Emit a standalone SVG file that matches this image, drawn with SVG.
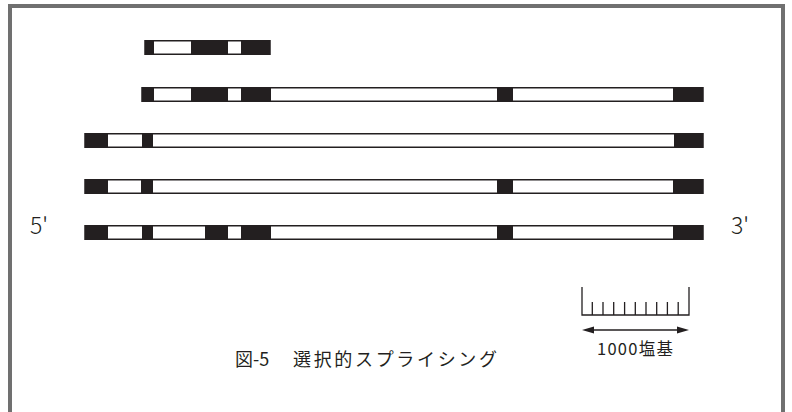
<svg xmlns="http://www.w3.org/2000/svg" width="792" height="412" viewBox="0 0 792 412">
<style>
.bar{fill:#fff;stroke:#231f20;stroke-width:1.5}
.ex{fill:#231f20}
.lbl{font-family:"Noto Sans CJK JP","Liberation Sans",sans-serif;font-weight:300;fill:#231f20}
.jp{font-family:"Noto Sans CJK JP",sans-serif;font-weight:400;fill:#231f20}
.sc{stroke:#231f20;stroke-width:1.3;fill:none}
</style>
<rect width="792" height="412" fill="#fff"/>
<rect x="10" y="6" width="773" height="430" fill="none" stroke="#707070" stroke-width="4"/>

<g id="isoform1">
<rect class="bar" x="145" y="40.75" width="125" height="13.5"/>
<rect class="ex" x="145" y="40" width="9" height="15"/>
<rect class="ex" x="191" y="40" width="37" height="15"/>
<rect class="ex" x="241" y="40" width="29" height="15"/>
</g>

<g id="isoform2">
<rect class="bar" x="142" y="87.75" width="561" height="13.5"/>
<rect class="ex" x="142" y="87" width="12" height="15"/>
<rect class="ex" x="191" y="87" width="37" height="15"/>
<rect class="ex" x="241" y="87" width="30" height="15"/>
<rect class="ex" x="497" y="87" width="16" height="15"/>
<rect class="ex" x="673" y="87" width="30" height="15"/>
</g>

<g id="isoform3">
<rect class="bar" x="85" y="133.75" width="618" height="13.5"/>
<rect class="ex" x="85" y="133" width="23" height="15"/>
<rect class="ex" x="142" y="133" width="11" height="15"/>
<rect class="ex" x="674" y="133" width="29" height="15"/>
</g>

<g id="isoform4">
<rect class="bar" x="85" y="179.75" width="618" height="13.5"/>
<rect class="ex" x="85" y="179" width="23" height="15"/>
<rect class="ex" x="141" y="179" width="12" height="15"/>
<rect class="ex" x="497" y="179" width="16" height="15"/>
<rect class="ex" x="673" y="179" width="30" height="15"/>
</g>

<g id="gene">
<rect class="bar" x="85" y="225.75" width="618" height="13.5"/>
<rect class="ex" x="85" y="225" width="23" height="15"/>
<rect class="ex" x="142" y="225" width="11" height="15"/>
<rect class="ex" x="205" y="225" width="23" height="15"/>
<rect class="ex" x="241" y="225" width="30" height="15"/>
<rect class="ex" x="497" y="225" width="16" height="15"/>
<rect class="ex" x="673" y="225" width="30" height="15"/>
</g>

<g id="label5">
<text class="lbl" x="30" y="234" font-size="23">5'</text>
</g>
<g id="label3">
<text class="lbl" x="731" y="234" font-size="23">3'</text>
</g>

<g id="scale">
<path class="sc" d="M582,287 V315 H689 V287"/>
<path class="sc" d="M592.3,302 V315 M603,302 V315 M613.7,302 V315 M624.6,302 V315 M635.3,302 V315 M646,302 V315 M656.7,302 V315 M667.4,302 V315 M678.2,302 V315"/>
<line x1="590" y1="330" x2="681" y2="330" stroke="#231f20" stroke-width="1.6"/>
<polygon class="ex" points="582,330 594,326.5 594,333.5"/>
<polygon class="ex" points="689,330 677,326.5 677,333.5"/>
<text class="jp" x="635" y="355" font-size="16.5" text-anchor="middle" textLength="76" lengthAdjust="spacing">1000塩基</text>
</g>

<g id="title">
<text class="jp" x="235" y="366" font-size="18">図-5</text>
<text class="jp" x="293" y="366" font-size="18" textLength="204" lengthAdjust="spacing">選択的スプライシング</text>
</g>
</svg>
